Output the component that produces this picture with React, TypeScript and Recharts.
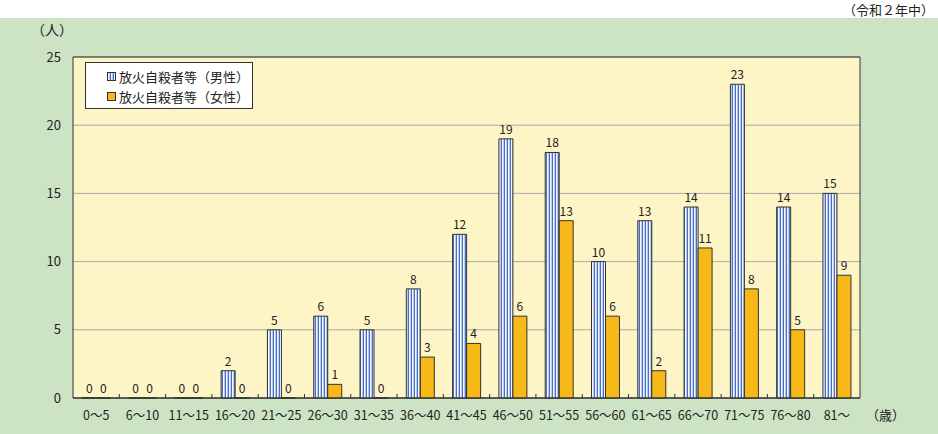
import React from "react";
import {
  BarChart,
  Bar,
  XAxis,
  YAxis,
  CartesianGrid,
  Legend,
  LabelList,
  ReferenceArea,
} from "recharts";

const ageGroups = [
  "0～5", "6～10", "11～15", "16～20", "21～25", "26～30", "31～35", "36～40",
  "41～45", "46～50", "51～55", "56～60", "61～65", "66～70", "71～75", "76～80", "81～",
];
const maleCounts = [0, 0, 0, 2, 5, 6, 5, 8, 12, 19, 18, 10, 13, 14, 23, 14, 15];
const femaleCounts = [0, 0, 0, 0, 0, 1, 0, 3, 4, 6, 13, 6, 2, 11, 8, 5, 9];
const yTicks = [0, 5, 10, 15, 20, 25];

const maleName = "放火自殺者等（男性）";
const femaleName = "放火自殺者等（女性）";

const FONT = "'Noto Sans CJK JP', 'Noto Sans', sans-serif";

const chartData = ageGroups.map((age, i) => ({
  age,
  male: maleCounts[i],
  female: femaleCounts[i],
}));

// category label + small inward tick at the right edge of each band
const AgeTick = (props: any) => {
  const { x, y, payload, index, width } = props;
  const band = (width || 787) / ageGroups.length;
  const isLast = index === ageGroups.length - 1;
  return (
    <g>
      {!isLast && (
        <line x1={x + band / 2} x2={x + band / 2} y1={y} y2={y - 4} stroke="#333" strokeWidth={1} />
      )}
      <text x={x} y={y + 22} textAnchor="middle" fontSize={12.5} fill="#222" fontFamily={FONT}>
        {payload.value}
      </text>
    </g>
  );
};

const LegendBox = (props: any) => {
  const items = [...(props.payload || [])].sort((a: any, b: any) =>
    a.dataKey === "male" ? -1 : b.dataKey === "male" ? 1 : 0
  );
  return (
    <div
      style={{
        width: 168,
        height: 47,
        background: "#fff",
        border: "1px solid #333",
        boxSizing: "border-box",
        padding: "3px 0 0 21px",
        fontFamily: FONT,
        fontSize: 13,
        color: "#222",
      }}
    >
      {items.map((it: any) => (
        <div key={it.value} style={{ display: "flex", alignItems: "center", height: 20 }}>
          <svg width={9} height={9} style={{ marginRight: 3 }}>
            <rect
              x={0.5}
              y={0.5}
              width={8}
              height={8}
              fill={it.dataKey === "male" ? "url(#maleStripe)" : "#f6b918"}
              stroke="#333"
            />
          </svg>
          <span>{it.value}</span>
        </div>
      ))}
    </div>
  );
};

export default function App() {
  return (
    <div
      style={{
        position: "absolute",
        left: 0,
        top: 0,
        width: 938,
        height: 434,
        background: "#fff",
        fontFamily: FONT,
      }}
    >
      <svg width={0} height={0} style={{ position: "absolute" }}>
        <defs>
          <pattern id="maleStripe" patternUnits="userSpaceOnUse" width={3} height={10}>
            <rect x={0} y={0} width={3} height={10} fill="#f4f7fd" />
            <rect x={0} y={0} width={1} height={10} fill="#4a6fc0" />
            <rect x={2} y={0} width={1} height={10} fill="#b8cbec" />
          </pattern>
        </defs>
      </svg>
      <div
        style={{
          position: "absolute",
          left: 0,
          top: 18,
          width: 938,
          height: 416,
          background: "#cce4c4",
        }}
      />
      <div
        style={{
          position: "absolute",
          right: 4,
          top: 0,
          fontSize: 13,
          color: "#222",
        }}
      >
        （令和２年中）
      </div>
      <div style={{ position: "absolute", left: 31, top: 19, fontSize: 14, color: "#222" }}>
        （人）
      </div>
      <div style={{ position: "absolute", left: 866, top: 405, fontSize: 13, color: "#222" }}>
        （歳）
      </div>
      <div style={{ position: "absolute", left: 0, top: 0 }}>
        <BarChart
          width={938}
          height={434}
          data={chartData}
          margin={{ top: 57, right: 78, bottom: 6, left: 13 }}
          barCategoryGap="20%"
          barGap={0}
          style={{ fontFamily: FONT }}
        >
          <CartesianGrid
            vertical={false}
            stroke="#a9a9a9"
            fill="#fdf5c6"
            fillOpacity={1}
          />
          <ReferenceArea y1={0} y2={25} fill="none" stroke="#333" strokeWidth={1} ifOverflow="visible" />
          <XAxis
            dataKey="age"
            height={30}
            interval={0}
            tickLine={false}
            tickSize={0}
            tickMargin={0}
            axisLine={{ stroke: "#333" }}
            tick={<AgeTick />}
          />
          <YAxis
            width={60}
            domain={[0, 25]}
            ticks={yTicks}
            tickLine={false}
            axisLine={false}
            tickSize={0}
            tickMargin={12}
            tick={{ fontSize: 13, fill: "#222", fontFamily: FONT }}
          />
          <Legend
            layout="vertical"
            verticalAlign="middle"
            align="center"
            content={<LegendBox />}
            wrapperStyle={{ left: 85, top: 62, width: 168 }}
          />
          <Bar
            dataKey="male"
            name={maleName}
            fill="url(#maleStripe)"
            stroke="#333"
            strokeWidth={1}
            minPointSize={0.01}
            isAnimationActive={false}
          >
            <LabelList dataKey="male" position="top" offset={5} fontSize={12} fill="#222" fontFamily={FONT} />
          </Bar>
          <Bar
            dataKey="female"
            name={femaleName}
            fill="#f6b918"
            stroke="#333"
            strokeWidth={1}
            minPointSize={0.01}
            isAnimationActive={false}
          >
            <LabelList dataKey="female" position="top" offset={5} fontSize={12} fill="#222" fontFamily={FONT} />
          </Bar>
        </BarChart>
      </div>
    </div>
  );
}
